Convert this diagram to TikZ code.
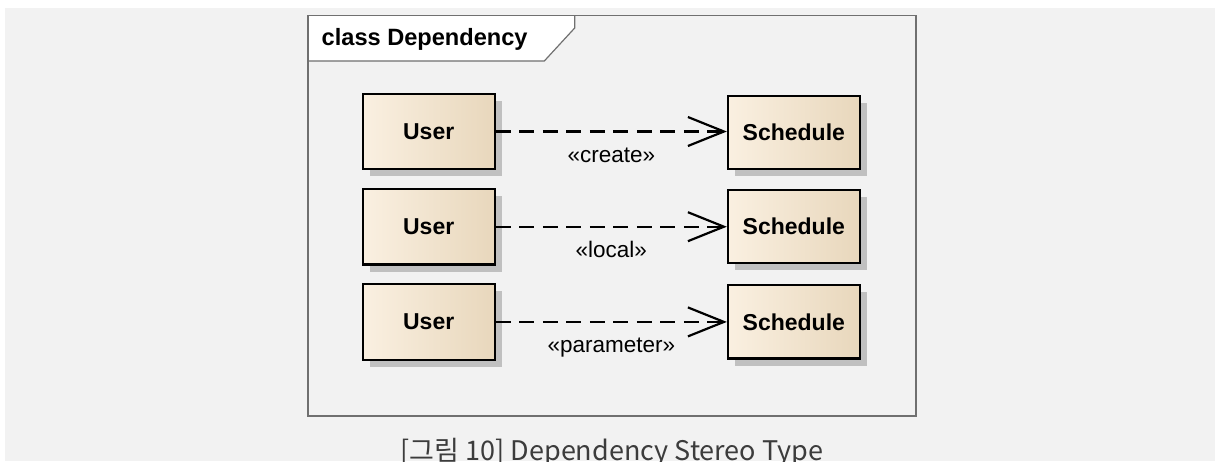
\documentclass[tikz,border=0pt]{standalone}
\usepackage{fontspec}
\setmainfont{Liberation Sans}
\newfontfamily\krfont{Noto Sans CJK KR}
\usetikzlibrary{arrows.meta,shadows}

\definecolor{bgGray}{HTML}{F2F2F2}
\definecolor{frameGray}{HTML}{707070}
\definecolor{boxL}{HTML}{FAF0E1}
\definecolor{boxM}{HTML}{FCF5EA}
\definecolor{boxR}{HTML}{E8D7BC}
\definecolor{shadowGray}{HTML}{C0C0C0}
\definecolor{captionGray}{HTML}{3C3C3C}

\tikzset{
  frameline/.style={draw=frameGray, line width=1.2pt},
  titletext/.style={font=\bfseries\fontsize{23.6}{28}\selectfont, inner sep=0pt},
  umlclass/.style={draw=black, line width=2.2pt, inner sep=0pt,
    left color=boxL, middle color=boxM, right color=boxR,
    font=\bfseries\fontsize{23}{27}\selectfont,
    drop shadow={shadow xshift=7pt, shadow yshift=-7pt, fill=shadowGray, opacity=1}},
  userbox/.style={umlclass, minimum width=132pt, minimum height=75.6pt},
  schedbox/.style={umlclass, minimum width=131.7pt, minimum height=73.5pt},
  depline/.style={line width=2.2pt, dash pattern=on 15pt off 8.5pt,
    -{Straight Barb[length=36pt,width=29pt]}},
  stereo/.style={font=\fontsize{22.5}{27}\selectfont, inner sep=0pt,
    anchor=base, yshift=-31pt},
  captiontext/.style={font=\krfont\fontsize{27}{32}\selectfont,
    text=captionGray, inner sep=0pt, anchor=base}
}

\begin{document}
\begin{tikzpicture}[x=1pt,y=-1pt]
  \useasboundingbox (0,0) rectangle (1215,461);
  % page and backdrop
  \fill[white] (0,0) rectangle (1215,461);
  \fill[bgGray] (5,8) rectangle (1215,461);

  % diagram frame with its name tab
  \fill[white] (308,15.3) -- (574.7,15.3) -- (574.7,28) -- (544.3,61) -- (308,61) -- cycle;
  \draw[frameline] (574.7,15.3) -- (574.7,28) -- (544.3,61) -- (308,61);
  \draw[frameline] (308,15.3) rectangle (916,416);
  \node[titletext, anchor=base west] (title) at (321.5,45.7) {class Dependency};

  % classes
  \node[userbox]  (u1) at (428.7,131.5) {User};
  \node[schedbox] (s1) at (793.8,132.4) {Schedule};
  \node[userbox]  (u2) at (428.7,226.7) {User};
  \node[schedbox] (s2) at (793.8,226.6) {Schedule};
  \node[userbox]  (u3) at (428.7,321.9) {User};
  \node[schedbox] (s3) at (793.8,321.8) {Schedule};

  % dependencies
  \draw[depline] (u1) -- (u1 -| s1.west) node[midway, stereo] (l1) {«create»};
  \draw[depline] (u2) -- (u2 -| s2.west) node[midway, stereo] (l2) {«local»};
  \draw[depline] (u3) -- (u3 -| s3.west) node[midway, stereo] (l3) {«parameter»};

  % caption
  \node[captiontext] (cap) at (612,460) {[그림 10] Dependency Stereo Type};
\end{tikzpicture}
\end{document}
